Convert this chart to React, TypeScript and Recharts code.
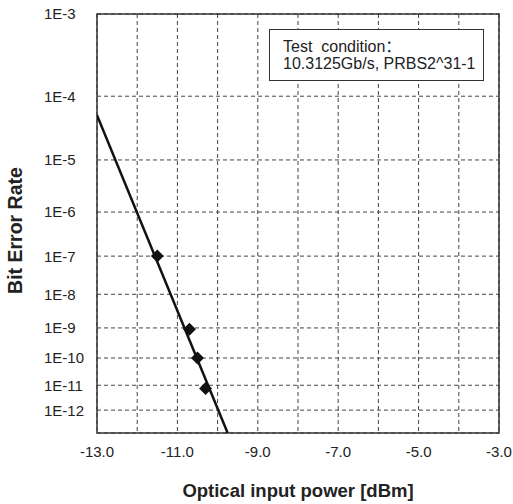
import React from 'react';
import {
  CartesianGrid,
  ComposedChart,
  Line,
  ReferenceArea,
  Scatter,
  XAxis,
  YAxis,
} from 'recharts';

// measured points (optical power in dBm, bit error rate)
const measuredPower = [-11.5, -10.7, -10.5, -10.3];
const measuredBer = [1e-7, 9e-10, 1e-10, 7.5e-12];

// fitted line end points
const fitPower = [-13, -9.75];
const fitBer = [5.3e-5, 1e-13];

const powerTicks = [-13, -12, -11, -10, -9, -8, -7, -6, -5, -4, -3];
const berTicks = [1e-3, 1e-4, 1e-5, 1e-6, 1e-7, 1e-8, 1e-9, 1e-10, 1e-11, 1e-12];
const berTop = 1e-3;
const berBottom = 1e-13;

const FONT = '"Liberation Sans", Arial, Helvetica, sans-serif';

// BER paper scale: log10(-log10(BER))
const berScale = (ber: number) => Math.log10(-Math.log10(ber));

const measured = measuredPower.map((x, i) => ({ x, y: berScale(measuredBer[i]) }));
const fit = fitPower.map((x, i) => ({ x, y: berScale(fitBer[i]) }));

const YTick = (props: any) => {
  const { y, payload } = props;
  const exp = Math.round(Math.pow(10, payload.value));
  return (
    <text x={44} y={y} dy="0.36em" fontSize={15} fontFamily={FONT} fill="#222">
      {`1E-${exp}`}
    </text>
  );
};

const XTick = (props: any) => {
  const { x, y, payload } = props;
  const v = payload.value as number;
  if (v % 2 === 0) return <g />;
  return (
    <text x={x} y={y} dy={16} textAnchor="middle" fontSize={15} fontFamily={FONT} fill="#222">
      {v.toFixed(1)}
    </text>
  );
};

const Diamond = (props: any) => {
  const { cx, cy } = props;
  const r = 6.5;
  return (
    <polygon
      points={`${cx},${cy - r} ${cx + r},${cy} ${cx},${cy + r} ${cx - r},${cy}`}
      fill="#111"
    />
  );
};

const XTitle = ({ viewBox }: any) => (
  <text
    x={viewBox.x + viewBox.width / 2}
    y={viewBox.y + 64}
    textAnchor="middle"
    fontSize={18.5}
    fontWeight="bold"
    fontFamily={FONT}
    fill="#222"
  >
    Optical input power [dBm]
  </text>
);

const YTitle = ({ viewBox }: any) => (
  <text
    transform={`translate(15, ${viewBox.y + viewBox.height / 2 + 7}) rotate(-90)`}
    textAnchor="middle"
    dominantBaseline="central"
    fontSize={19.5}
    fontWeight="bold"
    fontFamily={FONT}
    fill="#222"
  >
    Bit Error Rate
  </text>
);

export default function App() {
  const yTop = berScale(berTop);
  const yBottom = berScale(berBottom);
  return (
    <div style={{ position: 'absolute', left: 0, top: 0, background: '#fff' }}>
      <ComposedChart width={513} height={504} margin={{ top: 14, right: 14, left: 0, bottom: 0 }}>
        <CartesianGrid stroke="#444" strokeDasharray="4 3" strokeWidth={1} />
        <XAxis
          type="number"
          dataKey="x"
          domain={[-13, -3]}
          ticks={powerTicks}
          height={71}
          axisLine={false}
          tickLine={false}
          tick={<XTick />}
          label={<XTitle />}
          allowDataOverflow
        />
        <YAxis
          type="number"
          dataKey="y"
          domain={[yTop, yBottom]}
          ticks={berTicks.map(berScale)}
          reversed
          width={97}
          axisLine={false}
          tickLine={false}
          tick={<YTick />}
          label={<YTitle />}
          allowDataOverflow
        />
        <ReferenceArea
          x1={-13}
          x2={-3}
          y1={yTop}
          y2={yBottom}
          fill="none"
          fillOpacity={0}
          stroke="#333"
          strokeWidth={1.5}
        />
        <Line
          data={fit}
          dataKey="y"
          type="linear"
          stroke="#111"
          strokeWidth={2.5}
          dot={false}
          isAnimationActive={false}
        />
        <Scatter data={measured} dataKey="y" shape={<Diamond />} isAnimationActive={false} />
      </ComposedChart>
      <div
        style={{
          position: 'absolute',
          left: 269,
          top: 29,
          width: 200,
          height: 42,
          border: '1px solid #333',
          background: '#fff',
          paddingLeft: 13,
          paddingTop: 8,
          boxSizing: 'content-box',
          fontFamily: `${FONT}, "Noto Sans CJK SC"`,
          fontSize: 16,
          lineHeight: '17px',
          color: '#222',
          whiteSpace: 'pre',
        }}
      >
        <div>{'Test  condition：'}</div>
        <div>10.3125Gb/s, PRBS2^31-1</div>
      </div>
    </div>
  );
}
